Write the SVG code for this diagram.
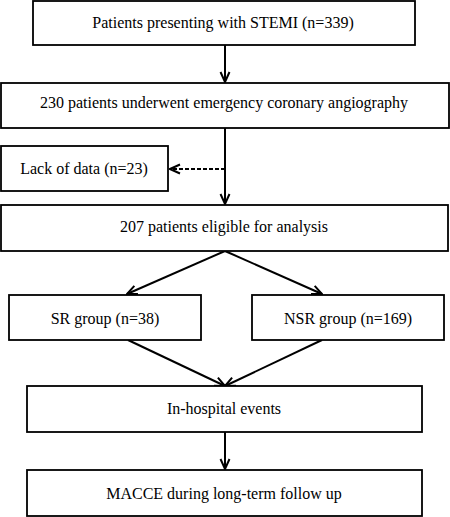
<svg xmlns="http://www.w3.org/2000/svg" width="450" height="517" viewBox="0 0 450 517">
<style>
.box{fill:#fff;stroke:#000;stroke-width:1.8}
text{font-family:"Liberation Serif","DejaVu Serif","Times New Roman",serif;font-size:16px;fill:#000;text-anchor:middle}
.c{fill:none;stroke:#000;stroke-width:2}
.d{stroke-dasharray:4 2}
</style>
<defs>
<marker id="ah" viewBox="0 0 12 12" refX="11" refY="6" markerWidth="12" markerHeight="12" markerUnits="userSpaceOnUse" orient="auto">
<path d="M1,1.5 L11,6 L1,10.5" fill="none" stroke="#000" stroke-width="2"/>
</marker>
</defs>
<rect width="450" height="517" fill="#fff"/>
<g id="connectors">
<line class="c" x1="225" y1="45" x2="225" y2="82" marker-end="url(#ah)"/>
<line class="c" x1="225" y1="128" x2="225" y2="204" marker-end="url(#ah)"/>
<line class="c d" x1="225" y1="169" x2="170" y2="169" marker-end="url(#ah)"/>
<line class="c" x1="225" y1="251" x2="127" y2="294" marker-end="url(#ah)"/>
<line class="c" x1="225" y1="251" x2="322" y2="294" marker-end="url(#ah)"/>
<line class="c" x1="128" y1="340" x2="225" y2="386" marker-end="url(#ah)"/>
<line class="c" x1="322" y1="340" x2="225" y2="386" marker-end="url(#ah)"/>
<line class="c" x1="225" y1="432" x2="225" y2="469" marker-end="url(#ah)"/>
</g>
<g id="n1"><rect class="box" x="33" y="1" width="382" height="44"/><text x="223" y="28" font-family="Liberation Serif, serif">Patients presenting with STEMI (n=339)</text></g>
<g id="n2"><rect class="box" x="1" y="83" width="448" height="45"/><text x="224" y="108">230 patients underwent emergency coronary angiography</text></g>
<g id="n3"><rect class="box" x="1" y="146" width="167" height="45"/><text x="84" y="174">Lack of data (n=23)</text></g>
<g id="n4"><rect class="box" x="1" y="205" width="447" height="46"/><text x="224" y="232">207 patients eligible for analysis</text></g>
<g id="n5"><rect class="box" x="9" y="295" width="192" height="45"/><text x="105" y="324">SR group (n=38)</text></g>
<g id="n6"><rect class="box" x="252" y="295" width="192" height="45"/><text x="348" y="324">NSR group (n=169)</text></g>
<g id="n7"><rect class="box" x="27" y="386" width="395" height="46"/><text x="224" y="414">In-hospital events</text></g>
<g id="n8"><rect class="box" x="27" y="470" width="395" height="46"/><text x="224" y="499">MACCE during long-term follow up</text></g>
</svg>
